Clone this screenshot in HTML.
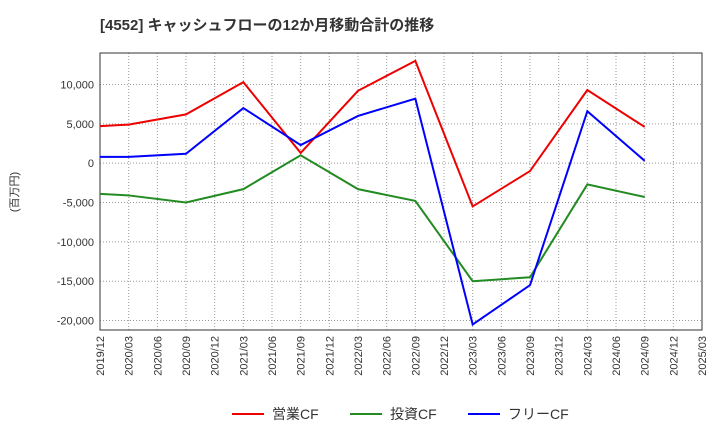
<!DOCTYPE html>
<html><head><meta charset="utf-8"><style>
body{margin:0;background:#fff;}
svg{font-family:"Liberation Sans","Noto Sans CJK JP",sans-serif;}
</style></head><body>
<svg id="c" width="720" height="440">
<text x="100" y="30" font-size="15" font-weight="bold" fill="#333">[4552]  キャッシュフローの12か月移動合計の推移</text>
<text transform="translate(18,192) rotate(-90)" font-size="11" fill="#333" text-anchor="middle">(百万円)</text>
<g id="grid"></g><g id="axes"></g><g id="series"></g>
<g>
<line x1="232" y1="414" x2="264" y2="414" stroke="#e00" stroke-width="2"/>
<text x="272" y="419" font-size="14" fill="#333">営業CF</text>
<line x1="350" y1="414" x2="382" y2="414" stroke="#228b22" stroke-width="2"/>
<text x="390" y="419" font-size="14" fill="#333">投資CF</text>
<line x1="468" y1="414" x2="500" y2="414" stroke="#00f" stroke-width="2"/>
<text x="508" y="419" font-size="14" fill="#333">フリーCF</text>
</g>
</svg>
<script>
const xLabels=["2019/12","2020/03","2020/06","2020/09","2020/12","2021/03","2021/06","2021/09","2021/12","2022/03","2022/06","2022/09","2022/12","2023/03","2023/06","2023/09","2023/12","2024/03","2024/06","2024/09","2024/12","2025/03"];
const yTicks=[10000,5000,0,-5000,-10000,-15000,-20000];
const pointIdx=[0,1,3,5,7,9,11,13,15,17,19];
const operatingCF=[4700,4900,6200,10300,1300,9200,13000,-5500,-1000,9300,4600];
const investingCF=[-3900,-4100,-5000,-3300,1000,-3300,-4800,-15000,-14500,-2700,-4300];
const freeCF=[800,800,1200,7000,2300,6000,8200,-20500,-15500,6600,300];
const L=100,R=702,T=53,B=330,yMax=14000,yMin=-21200;
const x=i=>L+(R-L)*i/(xLabels.length-1);
const y=v=>T+(B-T)*(yMax-v)/(yMax-yMin);
const NS="http://www.w3.org/2000/svg";
function mk(tag,attrs,parent,txt){const e=document.createElementNS(NS,tag);for(const k in attrs)e.setAttribute(k,attrs[k]);if(txt!==undefined)e.textContent=txt;document.getElementById(parent).appendChild(e);return e;}
xLabels.forEach((lb,i)=>{
 const g=mk('line',{x1:x(i),x2:x(i),y1:T,y2:B,stroke:'#999','stroke-dasharray':'1,2','stroke-width':1},'grid');
 
 
 const t=mk('text',{transform:`translate(${x(i)+4},${B+6}) rotate(-90)`,'font-size':11,fill:'#333','text-anchor':'end'},'axes',lb);
 
 
});
yTicks.forEach(v=>{
 const g=mk('line',{x1:L,x2:R,y1:y(v),y2:y(v),stroke:'#999','stroke-dasharray':'1,2','stroke-width':1},'grid');
 
 
 const t=mk('text',{x:L-6,y:y(v)+4,'font-size':11,fill:'#333','text-anchor':'end'},'axes',v.toLocaleString('en-US'));
 
 
});
const fr=mk('rect',{x:L,y:T,width:R-L,height:B-T,fill:'none',stroke:'#333'},'axes');


[[operatingCF,'#e00','operating-cf-line'],[investingCF,'#228b22','investing-cf-line'],[freeCF,'#00f','free-cf-line']].forEach(([d,c,n])=>{
 const p=mk('polyline',{points:d.map((v,k)=>x(pointIdx[k])+','+y(v)).join(' '),fill:'none',stroke:c,'stroke-width':2},'series');
 
 
});
</script>
</body></html>
